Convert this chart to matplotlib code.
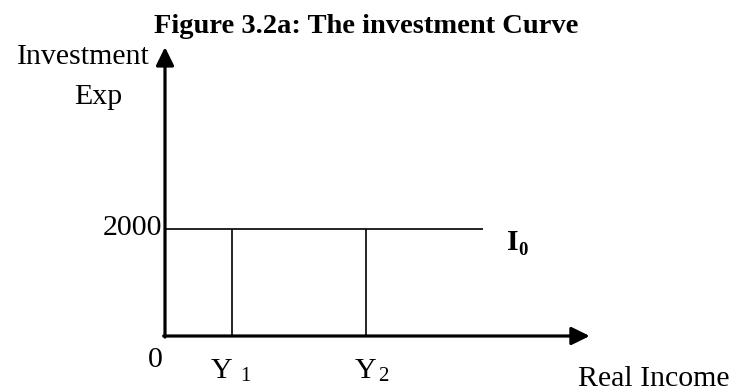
import matplotlib.pyplot as plt

# ----------------------------
# DATA
# ----------------------------
investment_level = 2000          # autonomous investment I0
income_marks = [1.0, 3.0]        # Y1, Y2 on the real income axis
income_labels = ["1", "2"]       # subscripts for the Y labels
curve_end = 4.75                 # where the I0 line stops
x_axis_end = 6.34
y_axis_end = 5400

# ----------------------------
# LAYOUT (pixels -> data)
# ----------------------------
W, H = 733, 392
X0_PX, Y0_PX = 165, 336          # origin of the diagram
PX_PER_X = 67.0
PX_PER_Y = 107.0 / 2000
FS = 21.5                        # body text size

plt.rcParams["font.family"] = ["Liberation Serif", "DejaVu Serif"]

fig = plt.figure(figsize=(W / 100, H / 100), dpi=100)
ax = fig.add_axes([0, 0, 1, 1])
ax.set_xlim(-X0_PX / PX_PER_X, (W - X0_PX) / PX_PER_X)
ax.set_ylim(-(H - Y0_PX) / PX_PER_Y, Y0_PX / PX_PER_Y)
ax.axis("off")


def px_text(x, y, s, **kw):
    # place text by pixel position (top-left origin)
    fig.text(x / W, 1 - y / H, s, **kw)


# axes with arrow heads
axis_kw = dict(arrowstyle="-|>,head_length=0.55,head_width=0.27",
               lw=2.3, color="black", shrinkA=0, shrinkB=0,
               mutation_scale=20)
ax.annotate("", xy=(x_axis_end, 0), xytext=(-0.02, 0), arrowprops=axis_kw)
ax.annotate("", xy=(0, y_axis_end), xytext=(0, -20), arrowprops=axis_kw)

# investment curve and the drop lines at Y1, Y2
ax.plot([0, curve_end], [investment_level, investment_level],
        color="black", lw=1.2, solid_capstyle="butt")
for xm in income_marks:
    ax.plot([xm, xm], [0, investment_level], color="black", lw=1.2,
            solid_capstyle="butt")

# ----------------------------
# TEXT
# ----------------------------
px_text(366, 33, "Figure 3.2a: The investment Curve", fontsize=20.5,
        fontweight="bold", ha="center", va="baseline")
px_text(150, 64, "Investment", fontsize=FS, ha="right", va="baseline")
px_text(98, 104, "Exp", fontsize=FS, ha="center", va="baseline")
px_text(162, 235, str(investment_level), fontsize=FS, ha="right",
        va="baseline")
px_text(155, 367, "0", fontsize=FS, ha="center", va="baseline")

# Y1, Y2 labels under the axis
y_left = [211, 355]
sub_left = [240, 378]
for xl, sl, sub in zip(y_left, sub_left, income_labels):
    px_text(xl, 378, "Y", fontsize=FS, ha="left", va="baseline")
    px_text(sl, 381, sub, fontsize=15, ha="left", va="baseline")

px_text(729, 386, "Real Income", fontsize=FS, ha="right", va="baseline")

# I0 label at the end of the curve
px_text(507, 250, "I", fontsize=FS, fontweight="bold", ha="left",
        va="baseline")
px_text(518, 255, "0", fontsize=13.5, fontweight="bold", ha="left",
        va="baseline")

fig.savefig("out.png", dpi=100, facecolor="white")
